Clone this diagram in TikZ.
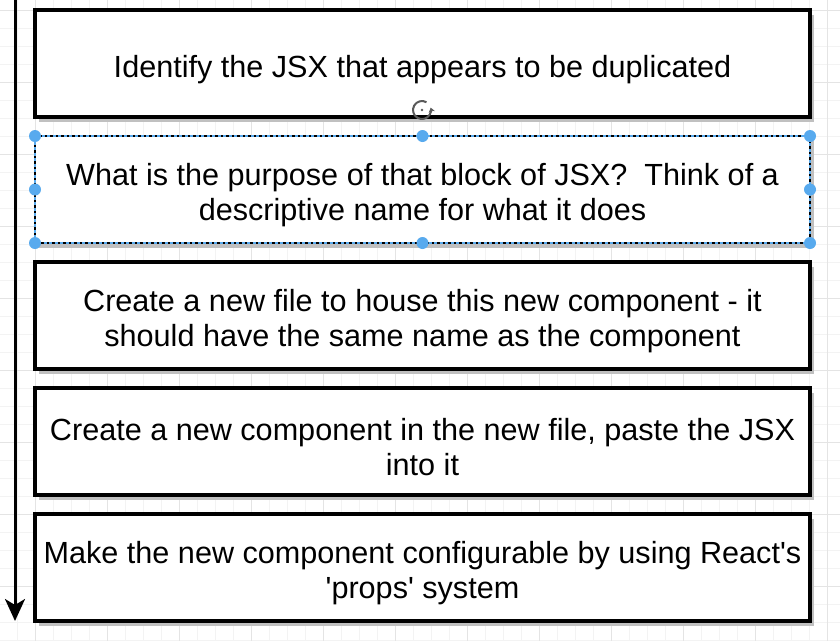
\documentclass[tikz,border=0pt]{standalone}
\usepackage{fontspec}
\newfontfamily\boxfont{Liberation Sans}
\usetikzlibrary{arrows.meta, positioning, shadows}
\definecolor{gridminor}{RGB}{243,243,243}
\definecolor{gridmajor}{RGB}{228,228,228}
\definecolor{handleblue}{RGB}{88,170,238}
\definecolor{shadowgray}{RGB}{192,192,192}
\definecolor{rotgray}{RGB}{90,90,90}

\tikzset{
  stepbox/.style={draw=black, line width=4pt, fill=white, outer sep=0pt,
    minimum width=775pt, minimum height=107pt,
    drop shadow={shadow xshift=4pt, shadow yshift=-5pt, fill=shadowgray, opacity=1}},
  selbox/.style={stepbox, line width=2.5pt},
  steptext/.style={align=center, inner sep=0pt, yshift=-6pt, font=\boxfont\fontsize{30.6}{35}\selectfont},
  handle/.style={circle, fill=handleblue, inner sep=0pt, minimum size=12pt},
}

\begin{document}
\begin{tikzpicture}[x=1pt, y=-1pt]
  \useasboundingbox (0,0) rectangle (840,641);
  \fill[white] (0,0) rectangle (840,641);
  % background grid
  \foreach \gx in {17,35,...,839} \draw[gridminor, line width=0.8pt] (\gx,0) -- (\gx,641);
  \foreach \gy in {10,28,...,640} \draw[gridminor, line width=0.8pt] (0,\gy) -- (840,\gy);
  \foreach \gx in {35,107,...,839} \draw[gridmajor, line width=0.8pt] (\gx,0) -- (\gx,641);
  \foreach \gy in {10,82,...,640} \draw[gridmajor, line width=0.8pt] (0,\gy) -- (840,\gy);

  % steps
  \node[stepbox] (b1) at (422.5,63.5) {};
  \node[selbox, below=19pt of b1] (b2) {};
  \node[stepbox, below=19pt of b2] (b3) {};
  \node[stepbox, below=19pt of b3] (b4) {};
  \node[stepbox, below=19pt of b4] (b5) {};
  \node[steptext] (t1) at (b1) {Identify the JSX that appears to be duplicated};
  \node[steptext] (t2) at (b2) {What is the purpose of that block of JSX?\ \ Think of a\\descriptive name for what it does};
  \node[steptext] (t3) at (b3) {Create a new file to house this new component - it\\should have the same name as the component};
  \node[steptext] (t4) at (b4) {Create a new component in the new file, paste the JSX\\into it};
  \node[steptext] (t5) at (b5) {Make the new component configurable by using React's\\'props' system};

  % selection of the second step
  \draw[handleblue, line width=1.3pt, dash pattern=on 3pt off 2.5pt] (b2.north west) rectangle (b2.south east);
  \foreach \a/\n in {north west/nw, north/n, north east/ne, west/w, east/e, south west/sw, south/s, south east/se}
    \node[handle] (h\n) at (b2.\a) {};
  \coordinate (rot) at (422,110);
  \draw[rotgray, line width=2pt, -{Stealth[length=4.5pt, width=6.5pt]}] ([shift={(-60:9)}]rot) arc[start angle=-60, end angle=-375, radius=9];
  \fill[rotgray] (rot) circle (1.4);

  % order of the steps
  \coordinate (top) at (15,0);
  \coordinate (bottom) at (15,621);
  \draw[line width=3pt, -{Stealth[width=20pt, length=22pt, inset=6pt]}] (top) -- (bottom);
\end{tikzpicture}
\end{document}
